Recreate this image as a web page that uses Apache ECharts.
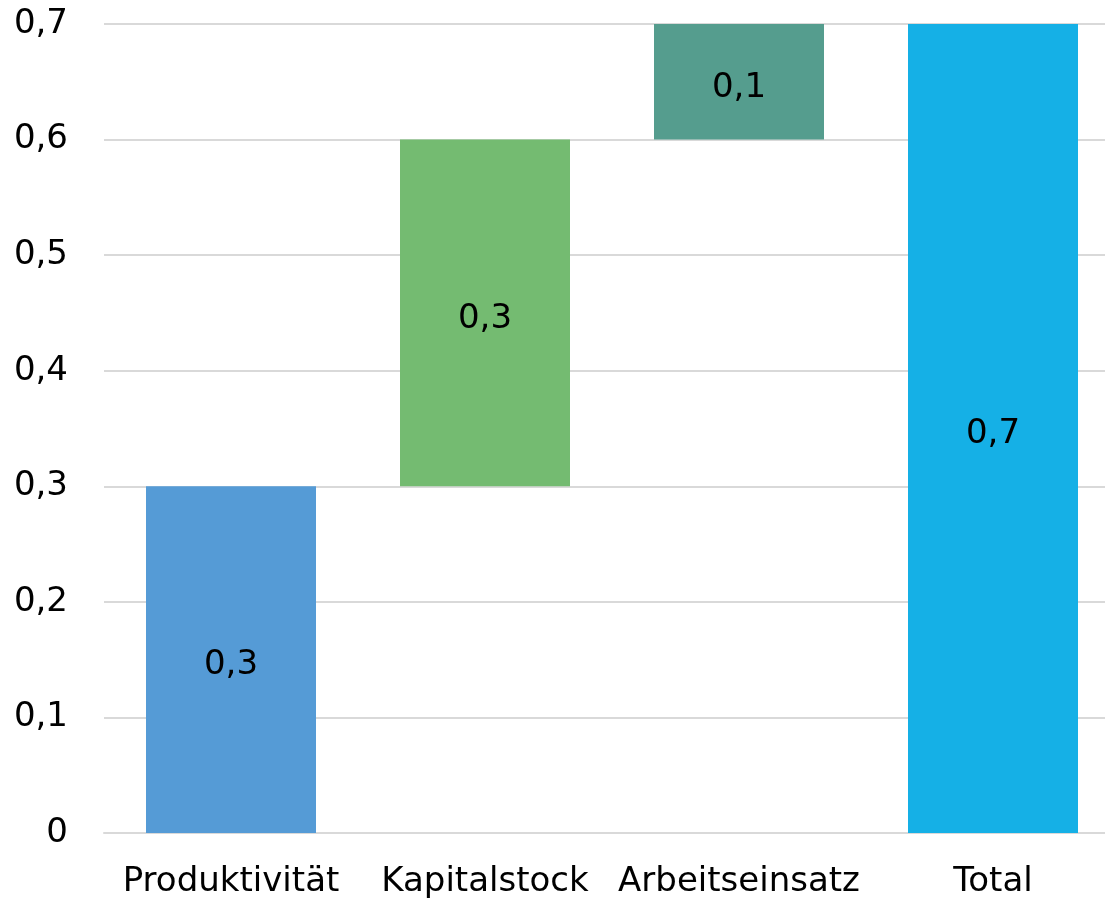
<!DOCTYPE html>
<html>
<head>
<meta charset="utf-8">
<script src="https://cdn.jsdelivr.net/npm/echarts@6/dist/echarts.min.js"></script>
<style>
  html, body { margin: 0; padding: 0; background: #ffffff; overflow: hidden; }
  /* the plot runs slightly past the right edge of the window */
  #chart { width: 1120px; height: 901px; }
</style>
</head>
<body>
<div id="chart"></div>
<script>
// Waterfall: contributions stacked on an invisible base, then the total
const categories = ['Produktivität', 'Kapitalstock', 'Arbeitseinsatz', 'Total'];
const contributions = [0.3, 0.3, 0.1, 0.7];
const baseOffsets = [0, 0.3, 0.6, 0];
const barColors = ['#559BD6', '#74BB71', '#559D8E', '#15B0E6'];
const yTicks = [0, 0.1, 0.2, 0.3, 0.4, 0.5, 0.6, 0.7];

const FONT = '"DejaVu Sans", sans-serif';
const fmt = v => String(Math.round(v * 10) / 10).replace('.', ',');

const chart = echarts.init(document.getElementById('chart'), null, { renderer: 'canvas' });
chart.setOption({
  animation: false,
  backgroundColor: '#ffffff',
  grid: { left: 104, right: 0, top: 24, bottom: 68, containLabel: false },
  xAxis: {
    type: 'category',
    data: categories,
    axisLine: { show: true, lineStyle: { color: '#d9d9d9', width: 2 } },
    axisTick: { show: false },
    axisLabel: {
      color: '#000000', fontFamily: FONT, fontSize: 34, margin: 32,
      interval: 0, hideOverlap: false
    }
  },
  yAxis: {
    type: 'value',
    min: yTicks[0],
    max: yTicks[yTicks.length - 1],
    interval: 0.1,
    axisLine: { show: false },
    axisTick: { show: false },
    splitLine: { lineStyle: { color: '#d9d9d9', width: 2 } },
    axisLabel: {
      color: '#000000', fontFamily: FONT, fontSize: 34, margin: 36,
      verticalAlign: 'middle', lineHeight: 34, padding: [10, 0, 0, 0], formatter: fmt
    }
  },
  series: [
    {
      type: 'bar',
      stack: 'wf',
      data: baseOffsets,
      barWidth: 170,
      itemStyle: { color: 'rgba(0,0,0,0)' },
      emphasis: { disabled: true },
      silent: true
    },
    {
      type: 'bar',
      stack: 'wf',
      barWidth: 170,
      data: contributions.map((v, i) => ({ value: v, itemStyle: { color: barColors[i] } })),
      label: {
        show: true,
        position: 'inside',
        offset: [0, 6],
        color: '#000000',
        fontFamily: FONT,
        fontSize: 34,
        formatter: p => fmt(p.value)
      }
    }
  ]
});
</script>
</body>
</html>
